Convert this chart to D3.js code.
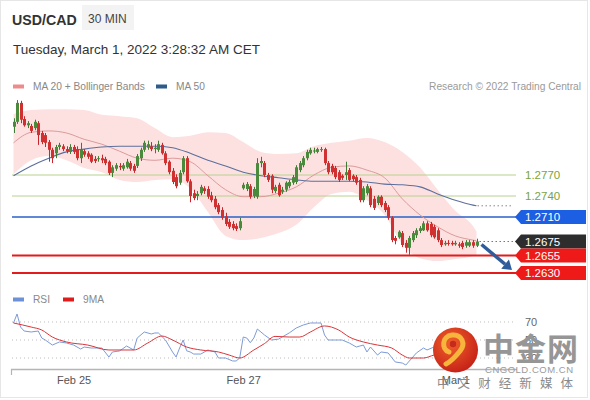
<!DOCTYPE html>
<html><head><meta charset="utf-8">
<script src="https://cdn.jsdelivr.net/npm/d3@7"></script>
<style>html,body{margin:0;padding:0;background:#fff;}svg{display:block;font-family:"Liberation Sans",Arial,sans-serif;}</style>
</head><body><svg id="c" width="590" height="400"></svg>
<script>
// ---------- data ----------
const symbol = "USD/CAD", timeframe = "30 MIN";
const stamp = "Tuesday, March 1, 2022 3:28:32 AM CET";
const credit = "Research \u00a9 2022 Trading Central";

const open = [1.2839,1.2846,1.2873,1.2850,1.2841,1.2840,1.2837,1.2844,1.2830,1.2827,
1.2817,1.2806,1.2801,1.2810,1.2811,1.2807,1.2803,1.2810,1.2807,1.2794,
1.2804,1.2801,1.2799,1.2793,1.2793,1.2794,1.2793,1.2789,1.2773,1.2779,
1.2783,1.2779,1.2781,1.2787,1.2783,1.2783,1.2794,1.2806,1.2809,1.2811,
1.2807,1.2806,1.2813,1.2801,1.2789,1.2776,1.2767,1.2759,1.2774,1.2794,
1.2761,1.2744,1.2740,1.2744,1.2751,1.2750,1.2741,1.2736,1.2727,1.2720,
1.2711,1.2703,1.2700,1.2697,1.2694,
1.2751,1.2750,1.2754,1.2740,1.2739,1.2787,1.2787,1.2770,1.2769,1.2747,
1.2756,1.2746,1.2749,1.2754,1.2759,1.2760,1.2777,1.2784,1.2794,1.2801,
1.2804,1.2803,1.2806,1.2807,1.2787,1.2783,1.2780,1.2774,1.2769,1.2770,
1.2777,1.2769,1.2767,1.2763,1.2734,1.2744,1.2751,1.2736,1.2730,1.2739,
1.2730,1.2724,1.2709,1.2680,1.2681,1.2687,1.2673,1.2666,1.2677,1.2684,
1.2690,1.2691,1.2701,1.2700,1.2696,1.2691,1.2677,1.2671,1.2673,1.2673,
1.2671,1.2671,1.2673,1.2669,1.2669,1.2674,1.2669];
const high = [1.2851,1.2877,1.2876,1.2854,1.2847,1.2843,1.2849,1.2847,1.2833,1.2830,
1.2820,1.2809,1.2813,1.2816,1.2814,1.2811,1.2814,1.2813,1.2811,1.2816,
1.2807,1.2804,1.2801,1.2797,1.2797,1.2799,1.2796,1.2791,1.2784,1.2787,
1.2787,1.2787,1.2793,1.2790,1.2786,1.2800,1.2809,1.2819,1.2819,1.2817,
1.2814,1.2819,1.2816,1.2804,1.2791,1.2780,1.2771,1.2777,1.2797,1.2797,
1.2764,1.2749,1.2747,1.2756,1.2754,1.2754,1.2746,1.2740,1.2730,1.2724,
1.2716,1.2707,1.2704,1.2701,1.2709,
1.2759,1.2760,1.2757,1.2753,1.2794,1.2796,1.2790,1.2773,1.2771,1.2756,
1.2759,1.2753,1.2761,1.2763,1.2770,1.2784,1.2790,1.2797,1.2806,1.2809,
1.2809,1.2809,1.2810,1.2809,1.2790,1.2786,1.2783,1.2777,1.2771,1.2789,
1.2780,1.2771,1.2770,1.2766,1.2754,1.2757,1.2754,1.2740,1.2741,1.2741,
1.2733,1.2727,1.2711,1.2683,1.2691,1.2690,1.2677,1.2683,1.2690,1.2694,
1.2697,1.2704,1.2704,1.2703,1.2699,1.2694,1.2680,1.2676,1.2677,1.2676,
1.2676,1.2674,1.2676,1.2677,1.2677,1.2677,1.2679];
const low = [1.2830,1.2843,1.2844,1.2839,1.2837,1.2830,1.2834,1.2813,1.2814,1.2810,
1.2789,1.2787,1.2794,1.2806,1.2804,1.2801,1.2800,1.2800,1.2791,1.2787,
1.2796,1.2793,1.2787,1.2787,1.2789,1.2787,1.2784,1.2770,1.2767,1.2776,
1.2777,1.2776,1.2779,1.2776,1.2773,1.2780,1.2790,1.2803,1.2806,1.2804,
1.2801,1.2803,1.2799,1.2784,1.2771,1.2757,1.2751,1.2756,1.2771,1.2759,
1.2731,1.2734,1.2734,1.2741,1.2743,1.2736,1.2731,1.2721,1.2714,1.2706,
1.2697,1.2693,1.2691,1.2690,1.2691,
1.2749,1.2747,1.2736,1.2737,1.2736,1.2781,1.2767,1.2760,1.2744,1.2744,
1.2739,1.2743,1.2746,1.2751,1.2756,1.2757,1.2774,1.2781,1.2791,1.2799,
1.2801,1.2801,1.2803,1.2784,1.2771,1.2771,1.2764,1.2760,1.2763,1.2763,
1.2761,1.2761,1.2756,1.2731,1.2731,1.2741,1.2724,1.2720,1.2727,1.2724,
1.2717,1.2706,1.2674,1.2671,1.2679,1.2667,1.2659,1.2656,1.2674,1.2680,
1.2687,1.2690,1.2689,1.2681,1.2679,1.2674,1.2667,1.2669,1.2669,1.2669,
1.2669,1.2666,1.2664,1.2666,1.2667,1.2666,1.2667];
const close = [1.2846,1.2873,1.2849,1.2841,1.2844,1.2833,1.2846,1.2827,1.2817,1.2816,
1.2806,1.2794,1.2810,1.2813,1.2807,1.2804,1.2810,1.2803,1.2794,1.2806,
1.2799,1.2796,1.2789,1.2790,1.2794,1.2791,1.2787,1.2773,1.2781,1.2784,
1.2781,1.2784,1.2789,1.2779,1.2776,1.2797,1.2806,1.2816,1.2814,1.2807,
1.2809,1.2814,1.2801,1.2787,1.2774,1.2760,1.2754,1.2773,1.2794,1.2761,
1.2740,1.2737,1.2743,1.2753,1.2747,1.2739,1.2734,1.2724,1.2717,1.2709,
1.2700,1.2696,1.2694,1.2693,1.2704,
1.2756,1.2757,1.2739,1.2750,1.2787,1.2790,1.2770,1.2763,1.2749,1.2753,
1.2741,1.2749,1.2759,1.2760,1.2767,1.2781,1.2787,1.2794,1.2803,1.2806,
1.2805,1.2807,1.2807,1.2787,1.2774,1.2774,1.2767,1.2763,1.2766,1.2774,
1.2763,1.2764,1.2759,1.2734,1.2751,1.2754,1.2727,1.2723,1.2739,1.2727,
1.2720,1.2709,1.2677,1.2676,1.2689,1.2670,1.2666,1.2680,1.2687,1.2691,
1.2694,1.2701,1.2691,1.2684,1.2681,1.2677,1.2670,1.2673,1.2672,1.2671,
1.2673,1.2669,1.2667,1.2674,1.2674,1.2669,1.2675];

const dateLabels = ["Feb 25", "Feb 27", "Mar 1"];
const dateIdx = [17, 65, 125];

const bandIdx = [0,5,10,15,20,25,30,35,40,45,50,55,60,65,70,75,80,85,90,95,100,105,110,115,120,125,130,131];
const ma20 = [1.2816,1.2831,1.2833,1.2830,1.2821,1.2814,1.2804,1.2794,1.2791,1.2794,1.2789,1.2769,1.2749,1.2739,1.2739,1.2744,1.2753,1.2770,1.2781,1.2783,1.2777,1.2766,1.2736,1.2713,1.2696,1.2683,1.2677,1.2676];
const bbUpper = [1.2857,1.2863,1.2864,1.2864,1.2863,1.2856,1.2854,1.2851,1.2837,1.2824,1.2826,1.2831,1.2830,1.2817,1.2803,1.2800,1.2801,1.2811,1.2816,1.2819,1.2823,1.2817,1.2803,1.2781,1.2749,1.2719,1.2697,1.2689];
const bbLower = [1.2771,1.2791,1.2797,1.2791,1.2780,1.2774,1.2763,1.2760,1.2763,1.2764,1.2751,1.2717,1.2683,1.2677,1.2680,1.2687,1.2699,1.2724,1.2743,1.2746,1.2734,1.2713,1.2671,1.2651,1.2647,1.2650,1.2654,1.2656];
const ma50 = [1.2769,1.2783,1.2794,1.2803,1.2807,1.2810,1.2811,1.2811,1.2811,1.2809,1.2801,1.2791,1.2783,1.2774,1.2769,1.2766,1.2763,1.2761,1.2761,1.2761,1.2760,1.2757,1.2756,1.2753,1.2743,1.2734,1.2727,1.2726];

const levels = [1.2770, 1.2740, 1.2710, 1.2675, 1.2655, 1.2630];
const levelKinds = ["res", "res", "pivot", "last", "sup", "sup"];

const rsiIdx = [0,1,2,3,5,7,8,9,11,13,15,17,19,20,22,25,27,28,30,32,34,35,37,39,40,41,43,45,46,47,48,49,50,51,53,55,57,58,60,62,63,64,65,66,67,68,69,71,73,75,78,80,82,84,86,87,88,89,91,93,95,97,99,100,101,103,104,106,108,110,111,113,114,116,117,119,121,123,125,127,129,131];
const rsiVal = [68.9,78.9,64.4,60,58.9,60,52.2,50,44.4,47.8,46.7,44.4,40,42.2,41.1,41.1,31.1,36.7,37.8,43.3,38.9,52.2,58.9,56.7,57.8,57.8,50,36.7,31.1,41.1,50,38,36.7,34.4,34.4,38.9,36.7,30,30,26.7,26.7,30,53.3,52.2,47,52.2,62.2,55.6,50,51,57.8,63.3,66.7,68.9,68.9,68.9,55.6,50,50,50,46.7,42.2,44.4,36.7,42.2,33.3,36.7,35.6,25.6,24.4,22.2,31.1,35.6,41.1,38.9,42.2,37,35,36,34,38,37];
const rsiMaIdx = [0,5,8,11,15,21,27,34,38,42,45,49,53,58,61,64,68,71,74,78,81,84,88,92,95,99,103,107,110,112,116,119,124,131];
const rsiMaVal = [68.9,64.4,61.1,53.3,47.8,44.4,38.9,38.9,46.7,54.4,50,42.2,38.9,36.7,33.3,30,38.9,46,54,53.3,53.3,58.9,65.6,61.1,53.3,47.8,44.4,41.1,33.3,30,30,33.3,36,37];
const rsiTicks = [70, 50, 30];

// ---------- drawing ----------
const svg = d3.select("#c");
const x = d3.scaleLinear().domain([0, close.length - 1]).range([13.5, 476.5]);
const y = d3.scaleLinear().domain([1.2630, 1.2770]).range([273, 175]);
const yr = d3.scaleLinear().domain([30, 70]).range([358, 322]);

svg.append("rect").attr("x",0.5).attr("y",0.5).attr("width",587).attr("height",397)
  .attr("fill","#fff").attr("stroke","#e6e6e6");

// header
svg.append("text").attr("x",12).attr("y",25).attr("font-size",14.2).attr("font-weight","bold").attr("fill","#333").text(symbol);
svg.append("rect").attr("x",82).attr("y",5).attr("width",52).attr("height",25).attr("fill","#f3f3f3");
svg.append("text").attr("x",88).attr("y",22.5).attr("font-size",12).attr("fill","#444").text(timeframe);
svg.append("text").attr("x",13).attr("y",54).attr("font-size",13.5).attr("fill","#333").text(stamp);

// legends
function legend(lx, ly, col, label) {
  svg.append("rect").attr("x",lx).attr("y",ly-5.5).attr("width",11).attr("height",4).attr("fill",col);
  svg.append("text").attr("x",lx+20).attr("y",ly).attr("font-size",10.2).attr("fill","#888").text(label);
}
legend(13, 90, "#ee8c8c", "MA 20 + Bollinger Bands");
legend(156, 90, "#2e5a8c", "MA 50");
svg.append("text").attr("x",581).attr("y",90).attr("text-anchor","end").attr("font-size",10.2).attr("fill","#9a9a9a").text(credit);

// Bollinger band fill
const bandRows = bandIdx.map((d, k) => ({i: d, up: bbUpper[k], lo: bbLower[k], m20: ma20[k], m50: ma50[k]}));
svg.append("path").datum(bandRows)
  .attr("d", d3.area().curve(d3.curveMonotoneX).x(d => x(d.i)).y0(d => y(d.lo)).y1(d => y(d.up)))
  .attr("fill","#fde1e1");

// level lines
const lineStyle = {res: ["#b7d28e", 1], pivot: ["#2a62c9", 1.3], last: [null, 0], sup: ["#e31b1b", 2]};
levels.forEach((v, k) => {
  const st = lineStyle[levelKinds[k]];
  if (!st[0]) return;
  svg.append("line").attr("x1",12).attr("x2",516).attr("y1",y(v)).attr("y2",y(v))
    .attr("stroke",st[0]).attr("stroke-width",st[1]);
});

// MA lines
svg.append("path").datum(bandRows)
  .attr("d", d3.line().curve(d3.curveMonotoneX).x(d => x(d.i)).y(d => y(d.m20)))
  .attr("fill","none").attr("stroke","#dc9a9a").attr("stroke-width",1);
svg.append("path").datum(bandRows)
  .attr("d", d3.line().curve(d3.curveMonotoneX).x(d => x(d.i)).y(d => y(d.m50)))
  .attr("fill","none").attr("stroke","#5d6f9c").attr("stroke-width",1.1);

// candles
const n = close.length;
const candles = d3.range(n).map(i => ({i, o: open[i], h: high[i], l: low[i], c: close[i]}));
const cg = svg.append("g");
cg.selectAll("line").data(candles).join("line")
  .attr("x1", d => Math.round(x(d.i)) + 0.5).attr("x2", d => Math.round(x(d.i)) + 0.5)
  .attr("y1", d => y(d.h)).attr("y2", d => y(d.l))
  .attr("stroke", d => d.c >= d.o ? "#3f7b34" : "#c9252b").attr("stroke-width",1);
cg.selectAll("rect").data(candles).join("rect")
  .attr("x", d => Math.round(x(d.i)) - 1)
  .attr("width", 3)
  .attr("y", d => y(Math.max(d.o, d.c)))
  .attr("height", d => Math.max(1, Math.abs(y(d.o) - y(d.c))))
  .attr("fill", d => d.c >= d.o ? "#4a8a3c" : "#d0302f");

// dotted guides to label column
const lastX = x(n - 1);
svg.append("line").attr("x1",lastX+1).attr("x2",513).attr("y1",y(ma50[ma50.length-1])).attr("y2",y(ma50[ma50.length-1]))
  .attr("stroke","#888").attr("stroke-dasharray","1.5,2.5");
svg.append("line").attr("x1",lastX+3).attr("x2",516).attr("y1",y(close[n-1])).attr("y2",y(close[n-1]))
  .attr("stroke","#777").attr("stroke-dasharray","1.5,2.5");

// level labels
const boxFill = {pivot: "#1c5fe3", last: "#2d2d2d", sup: "#ee1a1a"};
levels.forEach((v, k) => {
  const kind = levelKinds[k], yc = y(v);
  if (kind === "res") {
    svg.append("text").attr("x",525).attr("y",yc+4).attr("font-size",11.5).attr("fill","#7ba33f").text(v.toFixed(4));
  } else {
    svg.append("path").attr("d",`M515,${yc} L521,${yc-7} L586,${yc-7} L586,${yc+7} L521,${yc+7} Z`).attr("fill",boxFill[kind]);
    svg.append("text").attr("x",525).attr("y",yc+4).attr("font-size",11.5).attr("fill","#fff").text(v.toFixed(4));
  }
});

// projection arrow
const ax0 = lastX + 5, ay0 = y(close[n-1]) + 3, ax1 = 512, ay1 = y(levels[5]) - 3;
const ang = Math.atan2(ay1 - ay0, ax1 - ax0);
const hx = ax1 - 9*Math.cos(ang), hy = ay1 - 9*Math.sin(ang);
svg.append("line").attr("x1",ax0).attr("y1",ay0).attr("x2",hx).attr("y2",hy)
  .attr("stroke","#2f5c9a").attr("stroke-width",3.5);
const px = -Math.sin(ang), py = Math.cos(ang);
svg.append("path").attr("d",`M${ax1},${ay1} L${hx+6*px},${hy+6*py} L${hx-6*px},${hy-6*py} Z`).attr("fill","#2f5c9a");

// RSI panel
legend(13, 303, "#6e90d6", "RSI");
legend(63, 303, "#e01b1b", "9MA");
rsiTicks.forEach(t => {
  svg.append("line").attr("x1",12).attr("x2",516).attr("y1",yr(t)).attr("y2",yr(t))
    .attr("stroke","#bdbdbd").attr("stroke-dasharray","1,3");
  svg.append("text").attr("x",525).attr("y",yr(t)+4).attr("font-size",11).attr("fill","#666").text(t);
});
svg.append("path").datum(rsiIdx.map((d,k)=>[d,rsiVal[k]]))
  .attr("d", d3.line().x(d => x(d[0])).y(d => yr(d[1])))
  .attr("fill","none").attr("stroke","#7d9bd8").attr("stroke-width",1);
svg.append("path").datum(rsiMaIdx.map((d,k)=>[d,rsiMaVal[k]]))
  .attr("d", d3.line().curve(d3.curveMonotoneX).x(d => x(d[0])).y(d => yr(d[1])))
  .attr("fill","none").attr("stroke","#d9363a").attr("stroke-width",1);

// time axis
svg.append("line").attr("x1",11).attr("x2",517).attr("y1",369.5).attr("y2",369.5).attr("stroke","#b5b5b5").attr("stroke-width",1.6);
svg.append("line").attr("x1",11.5).attr("x2",11.5).attr("y1",369).attr("y2",375).attr("stroke","#b5b5b5").attr("stroke-width",1.2);
const ax = svg.append("g").attr("transform","translate(0,376)")
  .call(d3.axisBottom(x).tickValues(dateIdx).tickFormat((d,k) => dateLabels[k]).tickSize(0).tickPadding(0));
ax.select(".domain").remove();
ax.selectAll("text").attr("font-size",11).attr("fill","#555").attr("font-family","Liberation Sans, Arial, sans-serif").attr("dy","0.71em");

// watermark
const defs = svg.append("defs");
const rg = defs.append("radialGradient").attr("id","wm").attr("cx","40%").attr("cy","35%").attr("r","70%");
rg.append("stop").attr("offset","0%").attr("stop-color","#f0602a");
rg.append("stop").attr("offset","100%").attr("stop-color","#c41f17");
svg.append("circle").attr("cx",455.5).attr("cy",350).attr("r",22.5).attr("fill","url(#wm)");
svg.append("path").attr("d","M449,352 C441,349 442,336 452,335 C462,334 466,344 460,351 C456,356 452,361 446,364")
  .attr("fill","none").attr("stroke","#f7b53c").attr("stroke-width",5).attr("stroke-linecap","round");
svg.append("circle").attr("cx",453).attr("cy",344).attr("r",3.2).attr("fill","#c52a1a");
svg.append("text").attr("x",483).attr("y",360).attr("font-size",31).attr("font-weight",700)
  .attr("font-family","Noto Sans CJK SC").attr("fill","#969696").attr("textLength",95).text("中金网");
svg.append("text").attr("x",485).attr("y",372.5).attr("font-size",9.5).attr("fill","#9a9a9a")
  .attr("textLength",88).attr("lengthAdjust","spacing").text("CNGOLD.COM.CN");
svg.append("text").attr("x",437).attr("y",388).attr("font-size",12.5).attr("font-family","Noto Sans CJK SC").attr("fill","#8a8a8a")
  .attr("textLength",136).attr("lengthAdjust","spacing").text("中文财经新媒体");
</script></body></html>
